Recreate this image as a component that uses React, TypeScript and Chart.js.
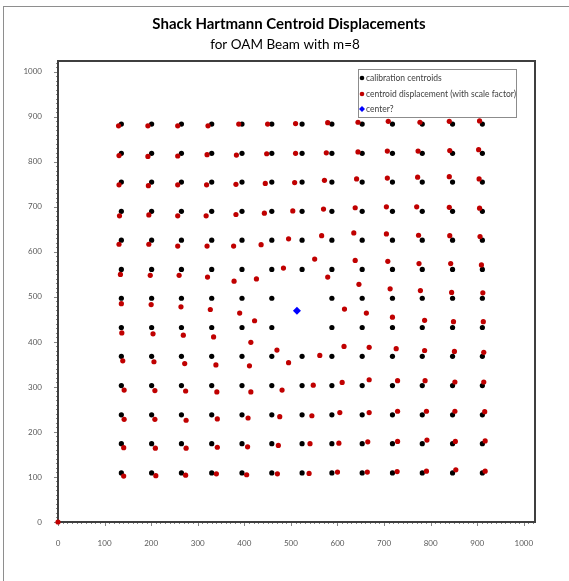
import React, { useEffect, useRef } from "react";
import { Chart, registerables } from "chart.js";

Chart.register(...registerables);

// ---------- data ----------
const titleText = "Shack Hartmann Centroid Displacements";
const subtitleText = "for OAM Beam with m=8";
const legendLabels = ["calibration centroids", "centroid displacement (with scale factor)", "center?"];

const xTicks = [0, 100, 200, 300, 400, 500, 600, 700, 800, 900, 1000];
const yTicks = [0, 100, 200, 300, 400, 500, 600, 700, 800, 900, 1000];
const axisMax = 1024;

// calibration grid (columns / rows)
const calX = [136, 201, 265, 330, 395, 459, 524, 588, 653, 718, 782, 847, 911];
const calY = [884, 819, 755, 690, 626, 561, 497, 432, 368, 303, 238, 174, 109];
// [row, col] with no spot
const missingSpots = [[6, 6], [7, 6]];

// displaced centroids, row by row (null = no spot)
const redX = [
  [130, 193, 257, 322, 388, 450, 510, 579, 644, 709, 777, 840, 905],
  [131, 193, 257, 320, 383, 448, 510, 576, 644, 707, 773, 841, 903],
  [131, 194, 257, 319, 382, 445, 508, 572, 641, 707, 772, 840, 904],
  [132, 195, 257, 318, 382, 443, 504, 570, 638, 705, 770, 840, 905],
  [131, 195, 257, 320, 377, 436, 495, 566, 635, 705, 774, 841, 906],
  [134, 198, 260, 321, 378, 426, 484, 551, 638, 708, 775, 843, 909],
  [136, 200, 264, 327, 390, 422, null, 579, 646, 713, 778, 845, 912],
  [137, 204, 269, 334, 414, 470, null, 615, 662, 718, 787, 849, 913],
  [139, 206, 272, 339, 411, 495, 562, 614, 668, 726, 787, 851, 914],
  [142, 208, 274, 341, 414, 481, 548, 610, 668, 729, 788, 852, 914],
  [142, 208, 275, 342, 408, 476, 545, 605, 668, 729, 791, 852, 916],
  [141, 209, 275, 342, 407, 473, 541, 603, 665, 729, 792, 853, 917],
  [141, 210, 274, 340, 405, 471, 539, 600, 664, 728, 791, 854, 917],
];
const redY = [
  [880, 880, 880, 880, 884, 884, 885, 887, 888, 890, 888, 890, 891],
  [814, 812, 813, 816, 815, 818, 819, 820, 822, 824, 824, 825, 827],
  [749, 747, 749, 749, 750, 752, 754, 759, 762, 764, 766, 767, 762],
  [680, 682, 680, 680, 683, 686, 691, 695, 698, 700, 700, 699, 697],
  [617, 617, 613, 613, 613, 616, 629, 636, 642, 640, 637, 636, 634],
  [550, 548, 548, 544, 535, 540, 564, 584, 581, 579, 574, 574, 571],
  [485, 483, 478, 472, 464, 447, null, 544, 528, 518, 514, 510, 509],
  [420, 418, 415, 411, 399, 382, null, 473, 464, 455, 448, 445, 445],
  [358, 356, 352, 349, 347, 354, 370, 390, 388, 385, 381, 379, 377],
  [293, 292, 291, 289, 289, 293, 304, 310, 316, 314, 314, 311, 311],
  [228, 228, 226, 229, 231, 234, 236, 243, 243, 246, 246, 246, 245],
  [165, 164, 164, 166, 167, 170, 174, 175, 178, 179, 182, 179, 180],
  [102, 103, 104, 107, 105, 107, 108, 111, 111, 112, 113, 116, 113],
];
// stray empty row plotted at the origin
const strayX = [0];
const strayY = [0];

const centerX = [513];
const centerY = [469];

// ---------- styles ----------
const W = 569;
const H = 581;
const BLACK = "#000000";
const RED = "#c00000";
const BLUE = "#0000ff";
const TICK_COLOR = "#595959";
const FONT = "Lato, 'Open Sans', sans-serif";

function buildCal() {
  const pts: { x: number; y: number }[] = [];
  calY.forEach((y, r) =>
    calX.forEach((x, c) => {
      if (!missingSpots.some(([mr, mc]) => mr === r && mc === c)) pts.push({ x, y });
    })
  );
  return pts;
}
function buildRed() {
  const pts: { x: number; y: number }[] = [];
  redX.forEach((row, r) =>
    row.forEach((x, c) => {
      const y = redY[r][c];
      if (x !== null && y !== null) pts.push({ x, y });
    })
  );
  strayX.forEach((x, i) => pts.push({ x, y: strayY[i] }));
  return pts;
}

const framePlugin = {
  id: "framePlugin",
  beforeDatasetsDraw(chart: any) {
    const { ctx, chartArea: a, scales } = chart;
    const xs = scales.x;
    const ys = scales.y;
    ctx.save();
    // tick marks
    ctx.strokeStyle = "#868686";
    ctx.lineWidth = 1;
    ctx.beginPath();
    for (let v = 0; v <= axisMax; v += 10) {
      const major = v % 100 === 0;
      const len = major ? 4 : 2;
      const px = Math.round(xs.getPixelForValue(v)) + 0.5;
      ctx.moveTo(px, a.bottom);
      ctx.lineTo(px, a.bottom + len);
      const py = Math.round(ys.getPixelForValue(v)) + 0.5;
      ctx.moveTo(a.left - len, py);
      ctx.lineTo(a.left, py);
    }
    ctx.stroke();
    // plot border
    ctx.strokeStyle = "#3f3f3f";
    ctx.lineWidth = 2;
    ctx.strokeRect(a.left, a.top, a.right - a.left, a.bottom - a.top);
    ctx.restore();
  },
  afterDatasetsDraw(chart: any) {
    const { ctx } = chart;
    ctx.save();
    // titles
    ctx.fillStyle = "#000000";
    ctx.textAlign = "center";
    ctx.textBaseline = "middle";
    ctx.font = `bold 15px ${FONT}`;
    ctx.fillText(titleText, 289, 24);
    ctx.font = `13.5px ${FONT}`;
    ctx.fillText(subtitleText, 285, 45);
    // legend
    const lx = 358.5, ly = 69.5, lw = 158, lh = 48;
    ctx.fillStyle = "#ffffff";
    ctx.fillRect(lx, ly, lw, lh);
    ctx.strokeStyle = "#8c8c8c";
    ctx.lineWidth = 1;
    ctx.strokeRect(lx, ly, lw, lh);
    const colors = [BLACK, RED, BLUE];
    const rows = [78, 94, 109];
    ctx.textAlign = "left";
    ctx.font = `8.5px ${FONT}`;
    rows.forEach((ry, i) => {
      ctx.fillStyle = colors[i];
      ctx.beginPath();
      if (i === 2) {
        ctx.moveTo(362, ry - 3);
        ctx.lineTo(365, ry);
        ctx.lineTo(362, ry + 3);
        ctx.lineTo(359, ry);
        ctx.closePath();
      } else {
        ctx.arc(362, ry, 2.3, 0, Math.PI * 2);
      }
      ctx.fill();
      ctx.fillStyle = "#404040";
      ctx.fillText(legendLabels[i], 366, ry);
    });
    ctx.restore();
  },
};

export default function App() {
  const ref = useRef<HTMLCanvasElement | null>(null);
  useEffect(() => {
    if (!ref.current) return;
    const chart = new Chart(ref.current, {
      type: "scatter",
      data: {
        datasets: [
          {
            label: legendLabels[0],
            data: buildCal(),
            backgroundColor: BLACK,
            borderWidth: 0,
            pointRadius: 2.6,
            pointHoverRadius: 2.6,
            order: 3,
          },
          {
            label: legendLabels[1],
            data: buildRed(),
            backgroundColor: RED,
            borderWidth: 0,
            pointRadius: 2.6,
            pointHoverRadius: 2.6,
            order: 2,
            clip: false,
          },
          {
            label: legendLabels[2],
            data: centerX.map((x, i) => ({ x, y: centerY[i] })),
            backgroundColor: BLUE,
            borderWidth: 0,
            pointStyle: "rectRot",
            pointRadius: 4,
            pointHoverRadius: 4,
            order: 1,
          },
        ],
      },
      options: {
        responsive: false,
        maintainAspectRatio: false,
        animation: false,
        events: [],
        layout: { padding: { left: 0, top: 61, right: W - 535, bottom: 0 } },
        plugins: {
          legend: { display: false },
          tooltip: { enabled: false },
          title: { display: false },
        },
        scales: {
          x: {
            type: "linear",
            min: 0,
            max: axisMax,
            grid: { display: false },
            border: { display: false },
            afterFit: (s: any) => {
              s.height = H - 522;
            },
            afterBuildTicks: (s: any) => {
              s.ticks = xTicks.map((v) => ({ value: v }));
            },
            ticks: {
              autoSkip: false,
              maxRotation: 0,
              padding: 9,
              color: TICK_COLOR,
              font: { family: FONT, size: 8 },
              callback: (v: any) => String(v),
            },
          },
          y: {
            type: "linear",
            min: 0,
            max: axisMax,
            grid: { display: false },
            border: { display: false },
            afterFit: (s: any) => {
              s.width = 58;
            },
            afterBuildTicks: (s: any) => {
              s.ticks = yTicks.map((v) => ({ value: v }));
            },
            ticks: {
              autoSkip: false,
              padding: 8,
              color: TICK_COLOR,
              font: { family: FONT, size: 8 },
              callback: (v: any) => String(v),
            },
          },
        },
      },
      plugins: [framePlugin],
    });
    return () => chart.destroy();
  }, []);

  return (
    <div style={{ position: "fixed", left: 0, top: 0, width: W, height: H, background: "#ffffff", overflow: "hidden" }}>
      <div
        style={{
          position: "absolute",
          left: 3,
          top: 6,
          width: 620,
          height: 620,
          border: "1px solid #8e8e8e",
          boxSizing: "border-box",
        }}
      />
      <canvas ref={ref} width={W} height={H} style={{ position: "absolute", left: 0, top: 0, width: W, height: H }} />
    </div>
  );
}
